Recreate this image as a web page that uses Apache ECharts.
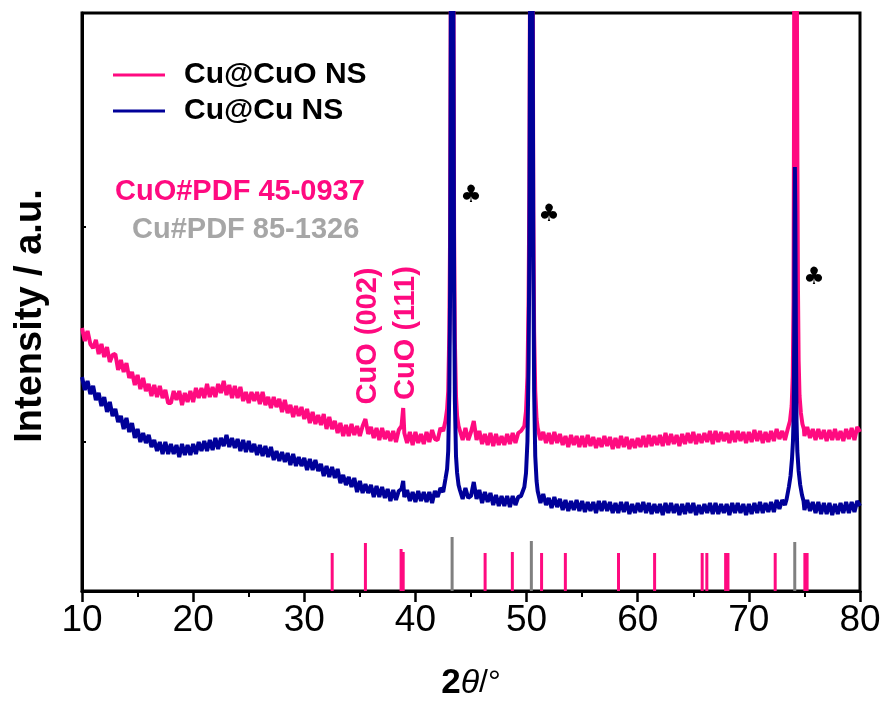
<!DOCTYPE html>
<html>
<head>
<meta charset="utf-8">
<script src="https://cdn.jsdelivr.net/npm/echarts@6/dist/echarts.min.js"></script>
<style>
  html, body { margin: 0; padding: 0; background: #fff; }
  #chart { width: 886px; height: 702px; }
</style>
</head>
<body>
<div id="chart"></div>
<script>
// 2theta grid of the measured scans: 10..80 in 0.25 deg steps
const scanStart = 10
const scanStep = 0.25

// Cu@CuO NS background (null = inside a peak, given in pinkPeaks)
const pinkBase = [
  263, 250, 260, 247, 243, 251, 237, 247, 234, 244, 229, 236, 237, 221, 231, 219,
  228, 213, 219, 206, 216, 202, 213, 200, 207, 195, 206, 194, 205, 193, 201, 188,
  188, 200, 191, 200, 186, 198, 189, 200, 189, 203, 193, 203, 193, 207, 194, 204,
  194, 207, 198, 210, 196, 206, 193, 205, 193, 204, 190, 199, 188, 199, 190, 199,
  187, 199, 186, 194, 183, 194, 184, 192, 179, 191, 178, 186, 174, 185, 175, 184,
  172, 182, 168, 179, 167, 176, 166, 177, 162, 174, 162, 170, 158, 168, 155, 166,
  155, 167, 156, 165, 155, 165, 172, 157, 164, 153, 163, 151, 163, 152, 160, 150,
  160, 149, 161, 165, 158, 148, 159, 146, 159, 148, 157, 147, 159, 149, 161, 152,
  151, 163, 160, null, null, null, null, null, 163, 151, 163, 151, 159, 170, 151, 160,
  147, 157, 146, 158, 145, 157, 146, 155, 146, 157, 147, 158, 148, 158, 160, null,
  null, null, null, null, null, 151, 159, 148, 158, 147, 159, 148, 157, 146, 155, 144,
  156, 146, 155, 144, 155, 144, 156, 145, 154, 143, 153, 144, 155, 145, 154, 142,
  153, 143, 155, 144, 154, 142, 152, 143, 153, 144, 155, 144, 156, 145, 155, 146,
  156, 145, 158, 146, 157, 147, 156, 145, 157, 147, 158, 148, 159, 147, 157, 148,
  158, 149, 160, 147, 160, 149, 159, 150, 158, 148, 160, 149, 160, 150, 159, 148,
  159, 149, 161, 150, 160, 148, 159, 149, 160, 150, 162, 152, 160, 151, null, null,
  null, null, null, null, 155, 164, 153, 162, 151, 162, 152, 161, 150, 161, 151, 162,
  151, 160, 150, 162, 152, 163, 151, 164, 159
]

// Cu@Cu NS background
const blueBase = [
  214, 201, 210, 197, 205, 191, 198, 185, 194, 179, 189, 175, 182, 169, 175, 162,
  173, 159, 168, 153, 162, 149, 158, 148, 156, 144, 151, 140, 149, 137, 149, 137,
  147, 137, 146, 134, 147, 136, 146, 136, 147, 137, 149, 140, 150, 140, 151, 141,
  153, 142, 153, 145, 156, 144, 153, 143, 152, 140, 151, 139, 150, 139, 147, 136,
  146, 135, 145, 134, 144, 131, 140, 130, 139, 129, 138, 126, 137, 125, 134, 125,
  133, 121, 132, 121, 131, 120, 127, 115, 125, 114, 124, 113, 122, 108, 116, 106,
  114, 104, 113, 99, 110, 98, 107, 98, 106, 94, 105, 94, 104, 93, 102, 90,
  101, 91, 100, 102, 94, 101, 90, 99, 89, 100, 90, 99, 89, 99, 88, 100,
  94, 103, 99, null, null, null, null, null, 101, 92, 103, 93, 95, 109, 92, 101,
  88, 99, 89, 98, 86, 96, 85, 95, 85, 95, 84, 95, 86, 94, 95, null,
  null, null, null, null, null, 88, 97, 86, 93, 83, 94, 84, 92, 81, 91, 80,
  90, 81, 91, 80, 90, 79, 89, 80, 89, 78, 90, 80, 90, 80, 89, 78,
  88, 78, 89, 79, 89, 77, 87, 78, 88, 79, 89, 78, 88, 77, 87, 78,
  87, 76, 88, 78, 88, 78, 87, 76, 87, 77, 88, 78, 88, 76, 86, 77,
  87, 78, 88, 77, 88, 77, 87, 78, 87, 76, 88, 78, 88, 78, 87, 76,
  87, 77, 88, 78, 89, 78, 88, 79, 89, 79, 91, 82, 91, 86, null, null,
  null, null, null, null, 81, 91, 80, 89, 78, 89, 77, 88, 77, 88, 76, 87,
  77, 88, 78, 89, 78, 89, 79, 90, 85
]

// sharp reflections, [2theta, intensity]
const pinkPeaks = [
  [38.9, 183],
  [42.7, 170], [42.85, 182], [42.95, 200], [43.05, 260], [43.12, 360], [43.18, 600],
  [43.24, 1100], [43.3, 1800], [43.36, 1100], [43.42, 600], [43.48, 360], [43.55, 250],
  [43.65, 195], [43.75, 175], [43.88, 165],
  [49.8, 165], [49.95, 180], [50.08, 215], [50.18, 290], [50.25, 400], [50.31, 620],
  [50.37, 1100], [50.43, 1800], [50.49, 1100], [50.55, 620], [50.61, 380], [50.68, 260],
  [50.78, 200], [50.9, 172], [51.0, 163],
  [73.5, 162], [73.7, 170], [73.85, 185], [73.95, 215], [74.02, 290], [74.07, 500],
  [74.1, 900], [74.13, 1600], [74.2, 1500], [74.28, 900], [74.33, 560], [74.37, 420],
  [74.42, 300], [74.48, 230], [74.56, 195], [74.68, 178], [74.82, 167], [74.95, 162]
]

const bluePeaks = [
  [38.9, 110],
  [42.7, 112], [42.85, 122], [42.95, 140], [43.05, 200], [43.12, 300], [43.18, 550],
  [43.24, 1050], [43.3, 1800], [43.36, 1050], [43.42, 550], [43.48, 300], [43.55, 190],
  [43.65, 135], [43.75, 118], [43.88, 106],
  [49.8, 104], [49.95, 118], [50.08, 150], [50.18, 225], [50.25, 340], [50.31, 570],
  [50.37, 1050], [50.43, 1800], [50.49, 1050], [50.55, 570], [50.61, 330], [50.68, 200],
  [50.78, 135], [50.9, 110], [51.0, 100],
  [73.4, 92], [73.6, 104], [73.75, 115], [73.88, 132], [73.97, 150], [74.03, 175],
  [74.08, 250], [74.11, 360], [74.14, 424], [74.18, 380], [74.23, 260], [74.29, 170],
  [74.36, 140], [74.48, 120], [74.62, 106], [74.78, 96], [74.92, 90]
]

// reference patterns: [2theta, relative height]
const cuoPdf = [
  [32.51, 38], [35.5, 48], [38.71, 42], [38.9, 39], [46.27, 38], [48.72, 39],
  [51.35, 38], [53.49, 38], [58.27, 38], [61.52, 38], [65.8, 38], [66.22, 38],
  [67.91, 38], [68.12, 38], [72.37, 38], [75.04, 38], [75.24, 38]
]
const cuPdf = [[43.3, 54], [50.43, 50], [74.13, 49]]

const xTicks = [10, 20, 30, 40, 50, 60, 70, 80]
const yTickMarks = [149, 364]

const PINK = '#ff0a80'
const BLUE = '#000099'
const GREY = '#808080'
const FONT = 'Liberation Sans, Arial, sans-serif'

function buildScan(base, peaks) {
  let pts = []
  base.forEach((v, i) => {
    if (v !== null) pts.push([scanStart + i * scanStep, v])
  })
  pts = pts.concat(peaks)
  pts.sort((a, b) => a[0] - b[0])
  return pts
}

const chartDom = document.getElementById('chart')
const myChart = echarts.init(chartDom)

const option = {
  animation: false,
  grid: {
    left: 82, right: 26, top: 13, bottom: 111,
    outerBoundsMode: 'none',
    show: true, borderColor: '#000', borderWidth: 3, backgroundColor: 'transparent'
  },
  legend: {
    data: ['Cu@CuO NS', 'Cu@Cu NS'],
    orient: 'vertical',
    left: 108, top: 55,
    icon: 'rect',
    itemWidth: 52, itemHeight: 3,
    itemGap: 6,
    textStyle: { fontSize: 30, fontWeight: 'bold', color: '#000', fontFamily: FONT, padding: [0, 0, 0, 14] }
  },
  xAxis: {
    type: 'value', min: xTicks[0], max: xTicks[xTicks.length - 1], interval: 10,
    axisLine: { show: true, onZero: false, lineStyle: { color: '#000', width: 3 } },
    axisTick: { show: true, length: 11, lineStyle: { color: '#000', width: 2.5 } },
    minorTick: { show: true, splitNumber: 2, length: 6, lineStyle: { color: '#000', width: 2 } },
    splitLine: { show: false },
    axisLabel: { fontSize: 37, color: '#000', margin: 11, fontFamily: 'Liberation Sans Narrow, Liberation Sans, sans-serif' },
    name: '{a|2}{b|θ}{c|/°}',
    nameLocation: 'middle',
    nameGap: 75,
    nameTextStyle: {
      rich: {
        a: { fontSize: 35, fontWeight: 'bold', color: '#000', fontFamily: FONT },
        b: { fontSize: 34, fontStyle: 'italic', color: '#000', fontFamily: FONT },
        c: { fontSize: 32, color: '#000', fontFamily: FONT }
      }
    }
  },
  yAxis: {
    type: 'value', min: 0, max: 578,
    axisLine: { show: true, onZero: false, lineStyle: { color: '#000', width: 3 } },
    axisTick: { show: true, inside: true, length: 4, customValues: yTickMarks, lineStyle: { color: '#000', width: 2 } },
    axisLabel: { show: false },
    splitLine: { show: false },
    name: 'Intensity / a.u.',
    nameLocation: 'middle',
    nameGap: 32,
    nameTextStyle: { fontSize: 38, fontWeight: 'bold', color: '#000', fontFamily: FONT, padding: [0, 28, 0, 0] }
  },
  series: [
    {
      name: 'CuO#PDF 45-0937', type: 'bar', data: cuoPdf, barWidth: 3, barGap: '-100%',
      itemStyle: { color: PINK }, silent: true
    },
    {
      name: 'Cu#PDF 85-1326', type: 'bar', data: cuPdf, barWidth: 3, barGap: '-100%',
      itemStyle: { color: GREY }, silent: true
    },
    {
      name: 'Cu@CuO NS', type: 'line', data: buildScan(pinkBase, pinkPeaks),
      showSymbol: false, symbol: 'none', clip: true,
      lineStyle: { color: PINK, width: 4 }, itemStyle: { color: PINK }
    },
    {
      name: 'Cu@Cu NS', type: 'line', data: buildScan(blueBase, bluePeaks),
      showSymbol: false, symbol: 'none', clip: true,
      lineStyle: { color: BLUE, width: 4 }, itemStyle: { color: BLUE }
    }
  ],
  graphic: [
    { type: 'text', left: 115, top: 177, style: { text: 'CuO#PDF 45-0937', fill: PINK, font: 'bold 29px ' + FONT } },
    { type: 'text', left: 132, top: 215, style: { text: 'Cu#PDF 85-1326', fill: '#a6a6a6', font: 'bold 29px ' + FONT } },
    { type: 'text', x: 368, y: 336, rotation: Math.PI / 2,
      style: { text: 'CuO (002)', fill: PINK, font: 'bold 29px ' + FONT, align: 'center', verticalAlign: 'middle' } },
    { type: 'text', x: 406, y: 333, rotation: Math.PI / 2,
      style: { text: 'CuO (111)', fill: PINK, font: 'bold 29px ' + FONT, align: 'center', verticalAlign: 'middle' } },
    { type: 'text', x: 471, y: 196, style: { text: '♣', fill: '#000', font: '24px DejaVu Sans', align: 'center', verticalAlign: 'middle' } },
    { type: 'text', x: 549, y: 215, style: { text: '♣', fill: '#000', font: '24px DejaVu Sans', align: 'center', verticalAlign: 'middle' } },
    { type: 'text', x: 814, y: 278, style: { text: '♣', fill: '#000', font: '24px DejaVu Sans', align: 'center', verticalAlign: 'middle' } }
  ]
}

myChart.setOption(option)
window.onresize = function () {
  myChart.resize()
}
</script>
</body>
</html>
